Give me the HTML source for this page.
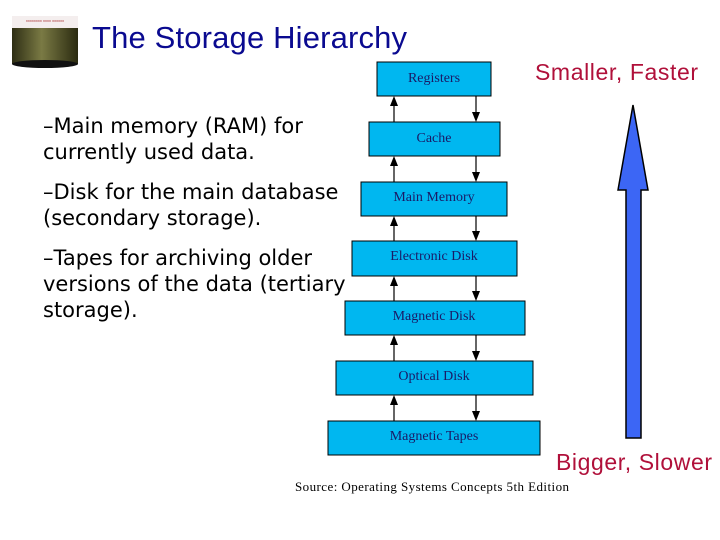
<!DOCTYPE html>
<html><head><style>
body{margin:0;width:720px;height:540px;background:#fff;overflow:hidden}
svg{display:block}
.b{fill:#00b7f0;stroke:#000;stroke-width:1}
.t{font-family:"Liberation Serif",serif;font-size:14px;fill:#1a1a66;text-anchor:middle}
.l{font-family:"DejaVu Sans",sans-serif;font-size:21px;fill:#000}
</style></head><body>
<svg width="720" height="540" viewBox="0 0 720 540">
<defs>
<linearGradient id="cyl" x1="0" x2="1"><stop offset="0" stop-color="#2e2e14"/><stop offset=".45" stop-color="#7a7a44"/><stop offset="1" stop-color="#2a2a10"/></linearGradient>
</defs>
<rect x="12" y="16" width="66" height="12" fill="#f4eeee"/>
<text x="45" y="22" font-size="4" fill="#a33" text-anchor="middle" font-family="Liberation Sans">xxxxxxxx xxxx xxxxxx</text>
<rect x="12" y="28" width="66" height="36" fill="url(#cyl)"/>
<ellipse cx="45" cy="64" rx="33" ry="4" fill="#111"/>
<text x="92" y="48" font-family="Liberation Sans, sans-serif" font-size="31" fill="#0a0a90" textLength="315">The Storage Hierarchy</text>
<text x="535" y="80" font-family="Liberation Sans" font-size="23" fill="#b0103a" textLength="163">Smaller, Faster</text>
<text x="556" y="470" font-family="Liberation Sans" font-size="23" fill="#b0103a" textLength="156">Bigger, Slower</text>
<text x="295" y="491" font-family="Liberation Serif" font-size="13" fill="#000" textLength="274">Source: Operating Systems Concepts 5th Edition</text>
<g class="l">
<text x="43" y="133">–Main memory (RAM) for</text>
<text x="43" y="159">currently used data.</text>
<text x="43" y="199">–Disk for the main database</text>
<text x="43" y="225">(secondary storage).</text>
<text x="43" y="265">–Tapes for archiving older</text>
<text x="43" y="291">versions of the data (tertiary</text>
<text x="43" y="317">storage).</text>
</g>
<rect class="b" x="377" y="62" width="114" height="34"/>
<rect class="b" x="369" y="122" width="131" height="34"/>
<rect class="b" x="361" y="182" width="146" height="34"/>
<rect class="b" x="352" y="241" width="165" height="35"/>
<rect class="b" x="345" y="301" width="180" height="34"/>
<rect class="b" x="336" y="361" width="197" height="34"/>
<rect class="b" x="328" y="421" width="212" height="34"/>
<g class="t">
<text x="434" y="82">Registers</text>
<text x="434" y="142">Cache</text>
<text x="434" y="201">Main Memory</text>
<text x="434" y="260">Electronic Disk</text>
<text x="434" y="320">Magnetic Disk</text>
<text x="434" y="380">Optical Disk</text>
<text x="434" y="440">Magnetic Tapes</text>
</g>
<g stroke="#000" stroke-width="1.2">
<line x1="394" y1="122" x2="394" y2="104"/><line x1="476" y1="96" x2="476" y2="114"/>
<line x1="394" y1="182" x2="394" y2="164"/><line x1="476" y1="156" x2="476" y2="174"/>
<line x1="394" y1="241" x2="394" y2="224"/><line x1="476" y1="216" x2="476" y2="233"/>
<line x1="394" y1="301" x2="394" y2="284"/><line x1="476" y1="276" x2="476" y2="293"/>
<line x1="394" y1="361" x2="394" y2="343"/><line x1="476" y1="335" x2="476" y2="353"/>
<line x1="394" y1="421" x2="394" y2="403"/><line x1="476" y1="395" x2="476" y2="413"/>
</g>
<g fill="#000">
<path d="M394,96 L390,106 L398,106Z"/><path d="M476,122 L472,112 L480,112Z"/>
<path d="M394,156 L390,166 L398,166Z"/><path d="M476,182 L472,172 L480,172Z"/>
<path d="M394,216 L390,226 L398,226Z"/><path d="M476,241 L472,231 L480,231Z"/>
<path d="M394,276 L390,286 L398,286Z"/><path d="M476,301 L472,291 L480,291Z"/>
<path d="M394,335 L390,345 L398,345Z"/><path d="M476,361 L472,351 L480,351Z"/>
<path d="M394,395 L390,405 L398,405Z"/><path d="M476,421 L472,411 L480,411Z"/>
</g>
<path d="M633,105 L648,190 L641,190 L641,438 L626,438 L626,190 L618,190 Z" fill="#3c66f5" stroke="#000" stroke-width="1.5"/>
</svg>
</body></html>
